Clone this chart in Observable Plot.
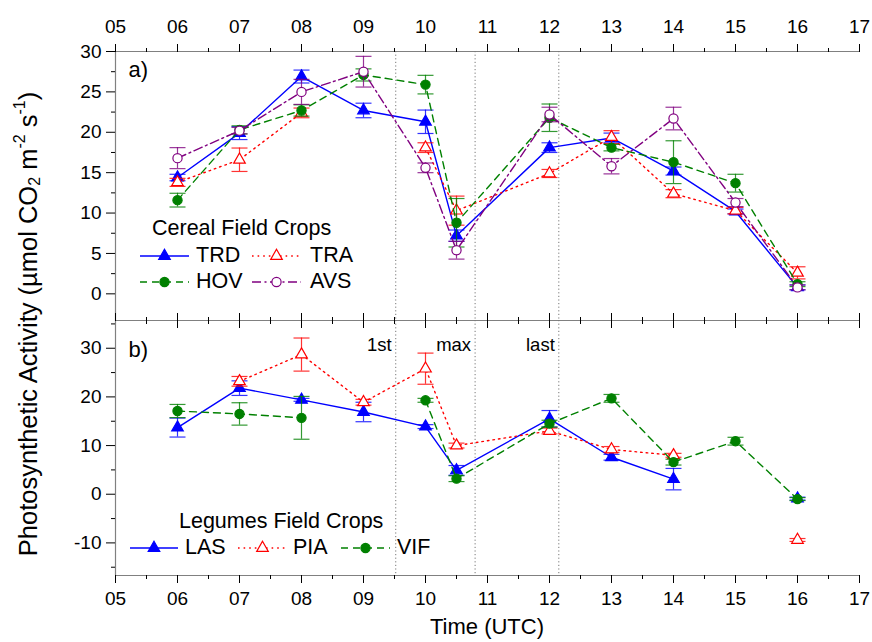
<!DOCTYPE html>
<html><head><meta charset="utf-8">
<script src="https://cdn.jsdelivr.net/npm/d3@7"></script>
<script src="https://cdn.jsdelivr.net/npm/@observablehq/plot@0.6"></script>
<style>
body{margin:0;background:#fff;font-family:"Liberation Sans",Arial,sans-serif;}
#fig{position:relative;width:872px;height:642px;overflow:hidden;background:#fff}
#fig > svg{position:absolute;left:0}
</style></head><body><div id="fig"></div>
<script>
// ---------- data ----------
const hours = [6, 7, 8, 9, 10, 10.5, 12, 13, 14, 15, 16];
const xMajor = [5, 6, 7, 8, 9, 10, 11, 12, 13, 14, 15, 16, 17];
const xMinor = [5.5, 6.5, 7.5, 8.5, 9.5, 10.5, 11.5, 12.5, 13.5, 14.5, 15.5, 16.5];
const eventHours = [9.52, 10.8, 12.15];
const eventLabels = ["1st", "max", "last"];

// panel a) cereals
const cereals = ["TRD", "TRA", "HOV", "AVS"];
const TRD = [14.4, 19.9, 26.9, 22.7, 21.3, 7.2, 18.1, 19.3, 15.2, 10.2, 0.8];
const TRD_err = [0.4, 0.8, 0.8, 0.9, 1.45, 0.7, 0.6, 0.6, 0.5, 0.3, 0.3];
const TRA = [13.8, 16.6, 22.4, null, 18.1, 10.3, 14.9, 19.4, 12.4, 10.3, 2.6];
const TRA_err = [0.5, 1.45, 0.6, null, 0.6, 1.8, 0.5, 0.8, 0.5, 0.4, 0.75];
const HOV = [11.6, 20.3, 22.7, 27.1, 25.9, 8.8, 21.8, 18.1, 16.3, 13.7, 1.2];
const HOV_err = [0.85, 0.5, 0.7, 0.75, 1.15, 3.0, 1.7, 0.4, 2.65, 1.1, 0.3];
const AVS = [16.8, 20.2, 25.0, 27.5, 15.6, 5.4, 22.2, 15.8, 21.7, 11.3, 0.8];
const AVS_err = [1.3, 0.4, 1.55, 1.9, 0.6, 1.1, 0.9, 0.95, 1.4, 0.5, 0.3];
const yTicksA = [0, 5, 10, 15, 20, 25, 30];
const yMinorA = [2.5, 7.5, 12.5, 17.5, 22.5, 27.5];
const yDomainA = [-3.3, 30];

// panel b) legumes
const legumes = ["LAS", "PIA", "VIF"];
const LAS = [13.7, 21.8, 19.4, 16.9, 13.9, 4.9, 15.5, 7.6, 3.1, null, -0.9];
const LAS_err = [1.95, 1.5, 0.3, 2.0, 0.4, 1.0, 1.7, 0.6, 2.2, null, 0.3];
const PIA = [null, 23.2, 28.7, 18.9, 25.8, 10.0, 13.0, 9.2, 8.0, null, -9.4];
const PIA_err = [null, 1.0, 3.4, 0.6, 3.2, 0.5, 0.6, 0.6, 0.4, null, 0.3];
const VIF = [17.1, 16.5, 15.7, null, 19.3, 3.2, 14.5, 19.7, 6.6, 10.9, -1.0];
const VIF_err = [1.35, 2.3, 4.4, null, 0.4, 0.6, 0.7, 0.8, 0.6, 0.8, 0.3];
const yTicksB = [-10, 0, 10, 20, 30];
const yMinorB = [-15, -5, 5, 15, 25, 35];
const yDomainB = [-16.7, 35.7];

// ---------- styles ----------
const styles = {
  TRD: {color: "#0000ff", dash: null, symbol: "triangle", open: false},
  TRA: {color: "#ff0000", dash: "1.6,4", symbol: "triangle", open: true},
  HOV: {color: "#008000", dash: "7,5", symbol: "circle", open: false},
  AVS: {color: "#800080", dash: "9,3.5,2,3.5", symbol: "circle", open: true},
  LAS: {color: "#0000ff", dash: null, symbol: "triangle", open: false},
  PIA: {color: "#ff0000", dash: "1.6,4", symbol: "triangle", open: true},
  VIF: {color: "#008000", dash: "7,5", symbol: "circle", open: false}
};
const valuesA = {TRD, TRA, HOV, AVS};
const errsA = {TRD: TRD_err, TRA: TRA_err, HOV: HOV_err, AVS: AVS_err};
const valuesB = {LAS, PIA, VIF};
const errsB = {LAS: LAS_err, PIA: PIA_err, VIF: VIF_err};

const FONT = '"Liberation Sans", Arial, sans-serif';
const AXIS = "#808080";
const cap = {draw(ctx, size) { const w = Math.sqrt(size / Math.PI); ctx.moveTo(-w, 0); ctx.lineTo(w, 0); }};
const pad2 = d => String(d).padStart(2, "0");
const events = eventHours.map((h, i) => ({hour: h, label: eventLabels[i]}));

function rowsFor(series, vals, errs) {
  return series.flatMap(s => hours.map((h, i) => ({series: s, hour: h, value: vals[s][i], err: errs[s][i]})));
}

function panel(cfg) {
  const marks = [];
  marks.push(Plot.ruleX([5], {stroke: AXIS, strokeWidth: 1.2}));
  marks.push(Plot.ruleY([cfg.yDomain[1]], {stroke: AXIS, strokeWidth: 1.2}));
  marks.push(Plot.ruleY([cfg.yDomain[0]], {stroke: AXIS, strokeWidth: 1.2}));
  marks.push(Plot.ruleX(eventHours, {stroke: "#777", strokeDasharray: "1.2,2.4", strokeWidth: 1}));
  for (const s of cfg.series) {
    const st = styles[s];
    const rows = cfg.rows.filter(d => d.series === s);
    const valid = rows.filter(d => d.value != null);
    marks.push(Plot.line(rows, {x: "hour", y: "value", stroke: st.color, strokeWidth: 1.4, strokeDasharray: st.dash || undefined}));
    marks.push(Plot.ruleX(valid, {x: "hour", y1: d => d.value - d.err, y2: d => d.value + d.err, stroke: st.color, strokeOpacity: 0.8, strokeWidth: 1.2}));
    marks.push(Plot.dot(valid, {x: "hour", y: d => d.value + d.err, symbol: cap, r: 8, stroke: st.color, fill: "none", strokeOpacity: 0.8, strokeWidth: 1.2}));
    marks.push(Plot.dot(valid, {x: "hour", y: d => d.value - d.err, symbol: cap, r: 8, stroke: st.color, fill: "none", strokeOpacity: 0.8, strokeWidth: 1.2}));
    marks.push(Plot.dot(valid, {x: "hour", y: "value", symbol: st.symbol, r: st.symbol === "triangle" ? 4.3 : 4.6,
      fill: st.open ? "white" : st.color, stroke: st.color, strokeWidth: 1.2}));
  }
  // axes
  marks.push(Plot.axisY(cfg.yTicks, {anchor: "left", tickSize: 9, tickPadding: 5, tickFormat: d => String(d), label: null, fontSize: 19}));
  marks.push(Plot.axisY(cfg.yMinor, {anchor: "left", tickSize: 4, tickFormat: () => "", label: null}));
  marks.push(Plot.axisX(xMajor, {anchor: "top", tickSize: 8, tickPadding: cfg.top ? 11 : 3, tickFormat: cfg.top ? pad2 : () => "", label: null, fontSize: 19}));
  marks.push(Plot.axisX(xMinor, {anchor: "top", tickSize: 4, tickFormat: () => "", label: null}));
  marks.push(Plot.axisX(xMajor, {anchor: "bottom", tickSize: 8, tickPadding: cfg.bottom ? 8 : 3, tickFormat: cfg.bottom ? pad2 : () => "", label: null, fontSize: 19}));
  marks.push(Plot.axisX(xMinor, {anchor: "bottom", tickSize: 4, tickFormat: () => "", label: null}));
  if (cfg.events) marks.push(Plot.text(events, {x: "hour", text: "label", frameAnchor: "top", textAnchor: "end", dx: -4, dy: 17, fontSize: 18.5}));
  marks.push(Plot.text([cfg.letter], {text: d => d, frameAnchor: "top-left", textAnchor: "start", dx: 13, dy: cfg.letterDy, fontSize: 22}));
  return Plot.plot({
    width: 872, height: cfg.height,
    marginLeft: 115, marginRight: 13, marginTop: cfg.marginTop, marginBottom: cfg.marginBottom,
    x: {domain: [5, 17]},
    y: {domain: cfg.yDomain},
    style: {fontFamily: FONT, fontSize: "19px", overflow: "visible", background: "transparent", color: "#000"},
    marks
  });
}

const fig = document.getElementById("fig");
const pa = panel({series: cereals, rows: rowsFor(cereals, valuesA, errsA), yDomain: yDomainA, yTicks: yTicksA, yMinor: yMinorA,
  height: 320, marginTop: 51, marginBottom: 0, top: true, bottom: false, events: false, letter: "a)", letterDy: 10});
pa.style.top = "0px";
fig.appendChild(pa);
const pb = panel({series: legumes, rows: rowsFor(legumes, valuesB, errsB), yDomain: yDomainB, yTicks: yTicksB, yMinor: yMinorB,
  height: 322, marginTop: 0, marginBottom: 67, top: false, bottom: true, events: true, letter: "b)", letterDy: 21});
pb.style.top = "320px";
fig.appendChild(pb);

// ---------- overlay: titles & legends ----------
const ov = d3.select(fig).append("svg").attr("width", 872).attr("height", 642).style("top", "0px")
  .style("font-family", FONT);
const yt = ov.append("text").attr("transform", "translate(30,324) rotate(-90)").attr("text-anchor", "middle")
  .attr("dominant-baseline", "middle").attr("font-size", 25.5);
yt.append("tspan").text("Photosynthetic Activity (µmol CO");
yt.append("tspan").attr("font-size", 16).attr("dy", 6).text("2");
yt.append("tspan").attr("dy", -6).text(" m");
yt.append("tspan").attr("font-size", 16).attr("dy", -9).text("-2");
yt.append("tspan").attr("dy", 9).text(" s");
yt.append("tspan").attr("font-size", 16).attr("dy", -9).text("-1");
yt.append("tspan").attr("dy", 9).text(")");
ov.append("text").attr("x", 487).attr("y", 628).attr("text-anchor", "middle").attr("dominant-baseline", "middle")
  .attr("font-size", 22).text("Time (UTC)");

function legend(title, titlePos, items) {
  ov.append("text").attr("x", titlePos[0]).attr("y", titlePos[1]).attr("dominant-baseline", "middle")
    .attr("font-size", 21.5).text(title);
  for (const it of items) {
    const st = styles[it.name];
    ov.append("line").attr("x1", it.x1).attr("x2", it.x2).attr("y1", it.y).attr("y2", it.y)
      .attr("stroke", st.color).attr("stroke-width", 1.4).attr("stroke-dasharray", st.dash);
    const sym = st.symbol === "triangle" ? d3.symbolTriangle : d3.symbolCircle;
    const r = st.symbol === "triangle" ? 4.3 : 4.6;
    ov.append("path").attr("d", d3.symbol(sym, Math.PI * r * r)()).attr("transform", `translate(${(it.x1 + it.x2) / 2},${it.y})`)
      .attr("fill", st.open ? "white" : st.color).attr("stroke", st.color).attr("stroke-width", 1.2);
    ov.append("text").attr("x", it.tx).attr("y", it.y).attr("dominant-baseline", "middle").attr("font-size", 21.5).text(it.name);
  }
}
legend("Cereal Field Crops", [152, 229], [
  {name: "TRD", x1: 140, x2: 189, y: 256, tx: 196},
  {name: "TRA", x1: 252, x2: 301, y: 256, tx: 310},
  {name: "HOV", x1: 140, x2: 189, y: 282, tx: 196},
  {name: "AVS", x1: 252, x2: 301, y: 282, tx: 310}
]);
legend("Legumes Field Crops", [179, 522], [
  {name: "LAS", x1: 130, x2: 178, y: 548, tx: 185},
  {name: "PIA", x1: 238, x2: 287, y: 548, tx: 293},
  {name: "VIF", x1: 341, x2: 390, y: 548, tx: 397}
]);
</script></body></html>
